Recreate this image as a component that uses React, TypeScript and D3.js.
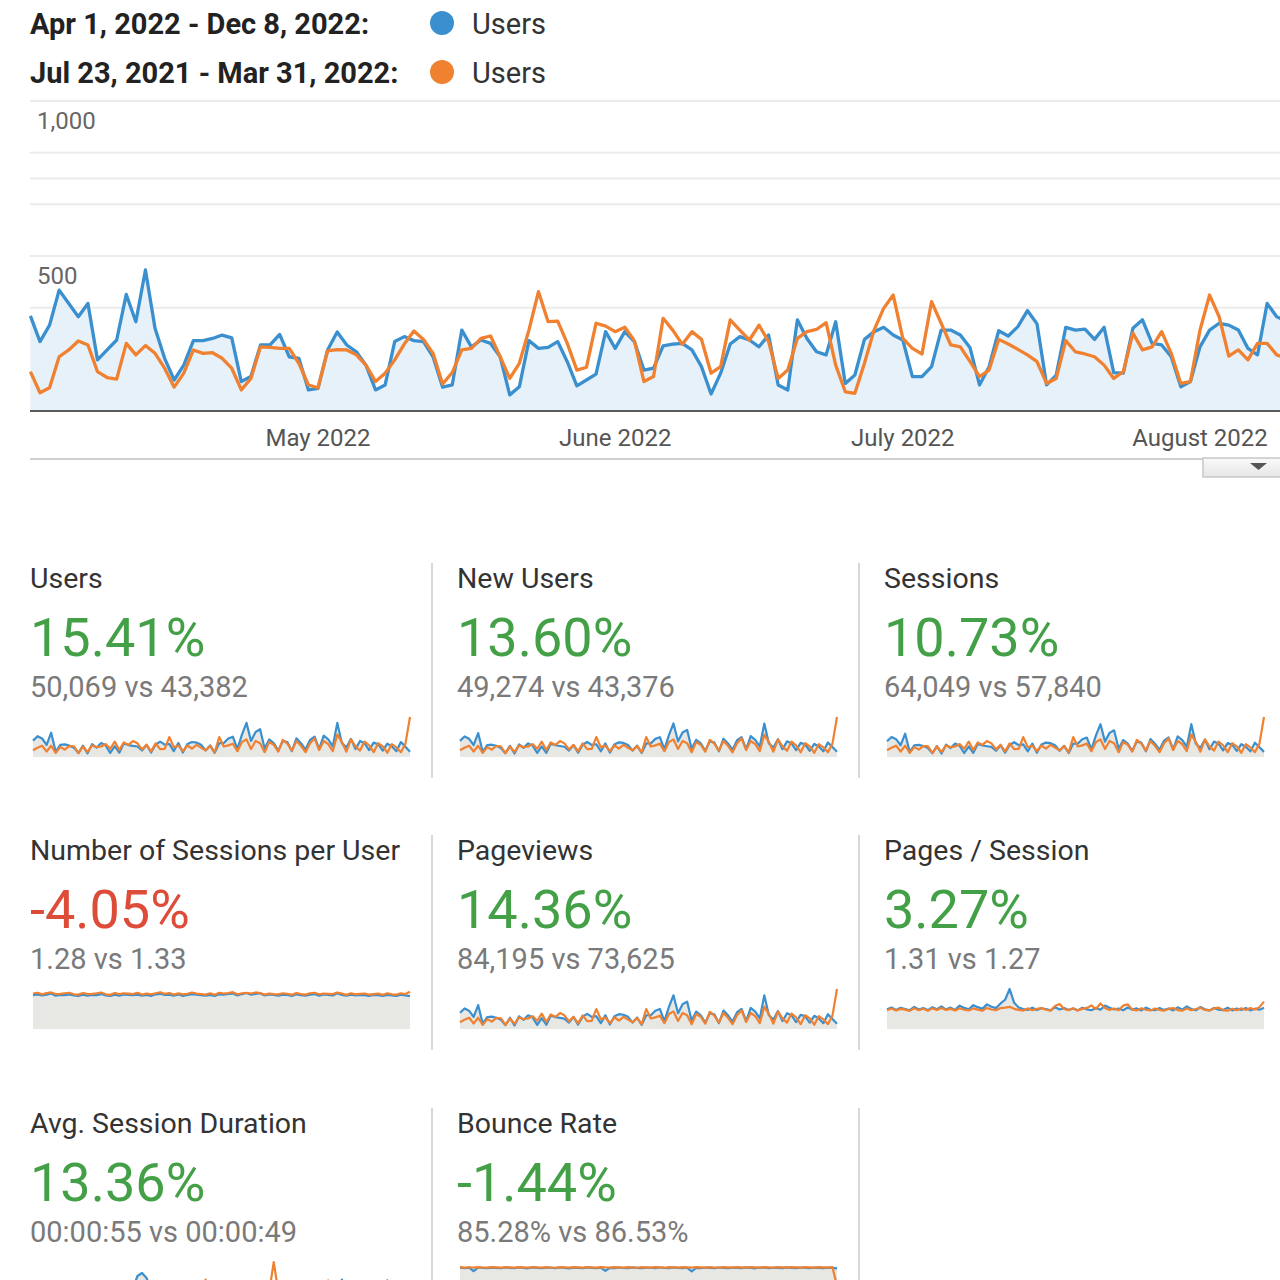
import React, { useEffect, useRef } from "react";
import { select, scaleTime, scaleLinear, line, area, max, format, timeDay } from "d3";

const FONT = "Roboto, 'Noto Sans', Arial, sans-serif";
const BLUE = "#3a8fcf";
const ORANGE = "#ef8130";

const rangeLabels = ["Apr 1, 2022 - Dec 8, 2022:", "Jul 23, 2021 - Mar 31, 2022:"];
const seriesName = "Users";
const startDate = new Date(2022, 3, 1);

// daily users from Apr 1, 2022
const usersDaily = [
  307, 224, 277, 390, 347, 304, 347, 165, 197, 229,
  376, 288, 455, 267, 170, 100, 148, 227, 227, 234,
  245, 236, 95, 111, 213, 213, 247, 175, 170, 68,
  73, 197, 255, 213, 191, 148, 68, 84, 224, 240,
  227, 224, 175, 77, 84, 261, 207, 229, 218, 175,
  52, 78, 227, 202, 205, 224, 159, 81, 100, 119,
  256, 202, 256, 224, 132, 138, 210, 216, 218, 197,
  143, 55, 122, 216, 240, 229, 207, 245, 84, 68,
  294, 234, 191, 181, 288, 89, 116, 231, 256, 270,
  245, 229, 111, 111, 143, 261, 261, 245, 205, 84,
  143, 259, 242, 272, 324, 281, 84, 116, 270, 261,
  264, 231, 270, 124, 122, 267, 294, 218, 213, 175,
  78, 95, 207, 261, 283, 277, 261, 202, 181, 347,
  304, 290,
];
// same days one period earlier (from Jul 23, 2021)
const usersDailyPrev = [
  127, 59, 75, 175, 197, 226, 213, 127, 108, 103,
  218, 181, 211, 186, 138, 77, 122, 197, 186, 188,
  170, 138, 68, 105, 207, 205, 202, 202, 154, 84,
  75, 194, 198, 197, 181, 148, 95, 122, 165, 216,
  258, 231, 186, 87, 124, 197, 202, 234, 242, 175,
  105, 154, 261, 385, 288, 290, 218, 132, 141, 283,
  274, 256, 270, 227, 95, 111, 299, 261, 215, 256,
  231, 122, 143, 294, 261, 229, 277, 224, 105, 132,
  234, 256, 263, 285, 148, 62, 57, 154, 261, 331,
  374, 234, 202, 184, 353, 283, 213, 207, 160, 111,
  132, 231, 216, 199, 181, 159, 89, 105, 227, 191,
  184, 175, 148, 105, 127, 251, 197, 207, 256, 186,
  89, 95, 261, 374, 304, 177, 197, 165, 218, 218,
  181, 170,
];

const yLabelTicks = [500, 1000];
const gridValues = [1000, 833, 750, 667, 500, 333];
const monthTicks = [new Date(2022, 4, 1), new Date(2022, 5, 1), new Date(2022, 6, 1), new Date(2022, 7, 1)];
const monthLabels = ["May 2022", "June 2022", "July 2022", "August 2022"];

// scorecards
const metricTitles = [
  "Users", "New Users", "Sessions",
  "Number of Sessions per User", "Pageviews", "Pages / Session",
  "Avg. Session Duration", "Bounce Rate",
];
const metricChange = [15.41, 13.6, 10.73, -4.05, 14.36, 3.27, 13.36, -1.44];
const metricIsGood = [true, true, true, false, true, true, true, true];
const metricDetail = [
  "50,069 vs 43,382", "49,274 vs 43,376", "64,049 vs 57,840",
  "1.28 vs 1.33", "84,195 vs 73,625", "1.31 vs 1.27",
  "00:00:55 vs 00:00:49", "85.28% vs 86.53%",
];

// sparkline samples (every 3rd day over each period)
const sparkUsers = [307,390,347,229,455,100,227,236,213,175,73,213,68,240,175,261,218,78,205,81,256,224,210,197,122,229,84,234,288,231,245,111,261,84,242,281,270,231,122,218,78,261,261,347,380,150,420,640,300,470,520,160,330,260,120,300,280,110,350,260,140,320,380,150,400,330,200,640,260,180,340,150,300,260,130,270,240,120,250,200,110,280,190,100];
const sparkUsersPrev = [127,175,213,103,211,77,186,138,207,202,75,197,95,216,186,197,242,154,288,132,274,227,299,256,143,229,105,256,148,154,374,184,213,111,216,159,227,175,127,207,89,374,197,218,250,110,280,330,150,300,260,90,280,230,100,320,250,120,300,210,90,260,350,130,300,240,110,420,280,100,330,200,120,290,220,90,260,200,80,240,180,90,250,750];
const sparkNewUsers = [301,384,340,224,447,97,222,230,209,170,71,208,66,234,171,255,213,76,200,79,250,219,205,192,119,223,82,229,281,226,239,108,255,82,236,275,264,226,119,213,76,255,255,339,371,146,410,628,293,459,508,156,322,254,117,293,273,107,342,254,137,313,371,146,391,322,195,625,254,176,332,146,293,254,127,264,234,117,244,195,107,273,185,98];
const sparkNewUsersPrev = [126,174,212,102,210,76,185,137,206,201,74,196,94,215,185,196,241,153,287,131,273,226,298,255,142,228,104,255,147,153,373,183,212,110,215,158,226,174,126,206,88,373,196,217,249,109,279,329,149,299,259,89,279,229,99,319,249,119,299,209,89,259,349,129,299,239,109,419,279,99,329,199,119,289,219,89,259,199,79,239,179,89,249,748];
const sparkSessions = [393,499,444,293,582,128,291,302,273,224,93,273,87,307,224,334,279,100,262,104,328,287,269,252,156,293,108,300,369,296,314,142,334,108,310,360,346,296,156,279,100,334,334,444,486,192,538,819,384,602,666,205,422,333,154,384,358,141,448,333,179,410,486,192,512,422,256,819,333,230,435,192,384,333,166,346,307,154,320,256,141,358,243,128];
const sparkSessionsPrev = [169,233,283,137,281,102,247,184,275,269,100,262,126,287,247,262,322,205,383,176,364,302,398,340,190,305,140,340,197,205,497,245,283,148,287,211,302,233,169,275,118,497,262,290,333,146,372,439,200,399,346,120,372,306,133,426,333,160,399,279,120,346,466,173,399,319,146,559,372,133,439,266,160,386,293,120,346,266,106,319,239,120,333,998];
const sparkSpu = [1.27,1.30,1.26,1.29,1.33,1.25,1.28,1.27,1.30,1.26,1.24,1.29,1.25,1.28,1.27,1.31,1.26,1.24,1.29,1.25,1.30,1.28,1.27,1.29,1.25,1.28,1.24,1.30,1.32,1.28,1.29,1.25,1.30,1.24,1.28,1.31,1.29,1.27,1.25,1.28,1.24,1.30,1.29,1.32,1.33,1.26,1.31,1.35,1.29,1.32,1.34,1.26,1.30,1.28,1.25,1.29,1.28,1.24,1.30,1.27,1.25,1.29,1.31,1.25,1.30,1.28,1.26,1.34,1.28,1.25,1.29,1.26,1.28,1.27,1.24,1.28,1.27,1.24,1.28,1.26,1.24,1.29,1.26,1.23];
const sparkSpuPrev = [1.33,1.36,1.30,1.35,1.37,1.31,1.32,1.34,1.36,1.30,1.29,1.35,1.31,1.32,1.34,1.37,1.30,1.28,1.35,1.31,1.34,1.33,1.31,1.36,1.29,1.33,1.30,1.34,1.38,1.32,1.35,1.29,1.34,1.30,1.32,1.37,1.33,1.31,1.29,1.34,1.28,1.36,1.33,1.35,1.38,1.30,1.34,1.36,1.33,1.37,1.35,1.29,1.33,1.31,1.30,1.34,1.32,1.28,1.35,1.31,1.29,1.34,1.36,1.30,1.33,1.32,1.31,1.37,1.33,1.28,1.34,1.30,1.32,1.33,1.29,1.31,1.33,1.28,1.34,1.30,1.29,1.34,1.31,1.40];
const sparkPageviews = [516,655,583,385,764,168,381,396,358,294,123,358,114,403,294,438,366,131,344,136,430,376,353,331,205,385,141,393,484,388,412,186,438,141,407,472,454,388,205,366,131,438,438,583,638,252,706,1075,504,790,874,269,554,437,202,504,470,185,588,437,235,538,638,252,672,554,336,1075,437,302,571,252,504,437,218,454,403,202,420,336,185,470,319,168];
const sparkPageviewsPrev = [216,298,362,175,359,131,316,235,352,343,128,335,162,367,316,335,411,262,490,224,466,386,508,435,243,389,179,435,252,262,636,313,362,189,367,270,386,298,216,352,151,636,335,371,425,187,476,561,255,510,442,153,476,391,170,544,425,204,510,357,153,442,595,221,510,408,187,714,476,170,561,340,204,493,374,153,442,340,136,408,306,153,425,1275];
const sparkPps = [1.28,1.40,1.24,1.38,1.30,1.22,1.44,1.27,1.36,1.23,1.41,1.29,1.47,1.26,1.39,1.24,1.52,1.37,1.28,1.55,1.42,1.31,1.60,1.45,1.36,1.66,1.90,2.60,1.70,1.40,1.29,1.24,1.39,1.23,1.35,1.30,1.22,1.41,1.27,1.36,1.23,1.33,1.21,1.38,1.28,1.22,1.37,1.25,1.52,1.38,1.27,1.33,1.22,1.40,1.26,1.34,1.21,1.39,1.25,1.22,1.36,1.24,1.33,1.21,1.41,1.26,1.47,1.30,1.22,1.43,1.28,1.21,1.37,1.25,1.23,1.39,1.21,1.33,1.24,1.36,1.21,1.32,1.25,1.38];
const sparkPpsPrev = [1.22,1.33,1.20,1.31,1.26,1.18,1.35,1.22,1.32,1.19,1.34,1.23,1.37,1.24,1.31,1.20,1.35,1.25,1.21,1.34,1.26,1.19,1.37,1.27,1.22,1.36,1.39,1.44,1.31,1.24,1.20,1.34,1.22,1.31,1.36,1.25,1.19,1.50,1.62,1.30,1.23,1.35,1.21,1.31,1.37,1.53,1.30,1.66,1.36,1.24,1.33,1.22,1.52,1.60,1.27,1.21,1.35,1.25,1.20,1.33,1.24,1.19,1.31,1.36,1.23,1.19,1.34,1.22,1.30,1.38,1.24,1.21,1.34,1.39,1.23,1.19,1.32,1.22,1.35,1.24,1.36,1.27,1.42,1.78];
const sparkDuration = [52,60,48,57,63,50,105,58,98,55,47,61,53,66,49,58,62,51,57,46,60,55,68,130,145,120,62,54,59,48,63,57,50,66,52,58,61,47,56,63,52,59,49,65,55,61,50,57,67,53,60,48,58,64,51,57,62,49,56,60,53,66,58,50,62,55,47,59,112,60,52,57,63,50,58,54,61,49,108,57,52,60,55,48];
const sparkDurationPrev = [46,52,43,50,55,44,58,49,53,47,42,54,46,57,44,51,55,45,50,41,53,48,59,62,56,51,47,52,44,56,50,45,58,47,51,54,42,49,112,55,46,52,44,57,49,53,45,51,58,47,53,43,50,200,52,49,45,54,105,48,100,52,46,57,50,108,44,51,56,47,53,49,45,55,50,46,52,48,54,45,50,47,53,58];
const sparkBounce = [86.1,84.9,85.7,77.0,86.3,85.2,84.6,86.0,85.1,84.4,86.5,85.4,84.7,86.2,85.0,84.3,86.4,85.3,84.5,86.1,85.6,84.8,86.3,85.1,84.2,86.0,85.5,84.6,86.4,85.2,84.4,86.1,78.0,85.3,84.7,86.2,85.0,84.5,86.6,85.4,84.3,86.0,85.6,84.9,86.3,85.1,84.4,86.5,85.2,84.6,86.1,76.5,85.4,84.8,86.3,85.0,84.4,86.2,85.5,84.7,86.0,85.3,84.5,86.4,85.1,84.3,86.2,85.6,84.8,86.1,85.2,84.5,86.4,85.0,84.6,86.2,85.3,84.4,86.0,85.5,84.7,86.1,85.2,84.0];
const sparkBouncePrev = [87.2,86.0,86.9,85.8,87.4,86.3,85.9,87.1,86.5,85.7,87.3,86.6,85.9,87.0,86.4,85.8,87.5,86.7,86.0,87.2,86.3,85.6,87.1,86.8,85.9,87.4,86.5,85.7,87.0,86.6,86.1,87.3,86.4,85.8,87.2,86.7,85.9,87.0,86.3,85.6,87.4,86.8,86.0,87.1,86.5,85.7,87.3,86.6,85.9,87.2,86.4,85.8,87.0,86.7,86.1,87.4,86.3,85.7,87.1,86.6,85.9,87.3,86.5,85.8,87.0,86.7,86.0,87.2,86.4,85.6,87.4,86.6,85.9,87.1,86.5,85.8,87.3,86.7,86.0,87.0,86.4,85.9,87.2,40.0];

const sparkCurrent = [sparkUsers, sparkNewUsers, sparkSessions, sparkSpu, sparkPageviews, sparkPps, sparkDuration, sparkBounce];
const sparkPrevious = [sparkUsersPrev, sparkNewUsersPrev, sparkSessionsPrev, sparkSpuPrev, sparkPageviewsPrev, sparkPpsPrev, sparkDurationPrev, sparkBouncePrev];
// fixed upper bound for the ratio metrics, otherwise the data max
const sparkTop: (number | null)[] = [null, null, null, 1.5, null, null, null, 100];

function App() {
  const svgRef = useRef<SVGSVGElement>(null);

  useEffect(() => {
    const svg = select(svgRef.current);
    svg.selectAll("*").remove();
    svg.attr("font-family", FONT);

    // legend
    rangeLabels.forEach((label, i) => {
      const cy = 23 + i * 49;
      svg.append("text").attr("x", 30).attr("y", cy + 11)
        .attr("font-size", 29).attr("font-weight", 700).attr("fill", "#222").text(label);
      svg.append("circle").attr("cx", 442).attr("cy", cy).attr("r", 12)
        .attr("fill", i === 0 ? BLUE : ORANGE);
      svg.append("text").attr("x", 472).attr("y", cy + 11)
        .attr("font-size", 29).attr("fill", "#333").text(seriesName);
    });

    // main chart
    const x = scaleTime()
      .domain([startDate, timeDay.offset(startDate, 130)])
      .range([30.4, 1276.7]);
    const y = scaleLinear().domain([0, 1000]).range([411, 101]);
    const dateAt = (i: number) => timeDay.offset(startDate, i);

    const g = svg.append("g");
    g.selectAll("line.grid").data(gridValues).enter().append("line")
      .attr("x1", 30).attr("x2", 1280)
      .attr("y1", (d) => y(d)).attr("y2", (d) => y(d))
      .attr("stroke", "#ebebeb").attr("stroke-width", 2);

    const fill = area<number>()
      .x((_, i) => x(dateAt(i)))
      .y0(y(0))
      .y1((d) => y(d));
    g.append("path").datum(usersDaily).attr("d", fill)
      .attr("fill", "#e4f0f8").attr("opacity", 0.9);

    g.append("line").attr("x1", 30).attr("x2", 1280)
      .attr("y1", y(0)).attr("y2", y(0))
      .attr("stroke", "#5a5a5a").attr("stroke-width", 2);

    const path = line<number>()
      .x((_, i) => x(dateAt(i)))
      .y((d) => y(d));
    g.append("path").datum(usersDaily).attr("d", path)
      .attr("fill", "none").attr("stroke", BLUE).attr("stroke-width", 3.3)
      .attr("stroke-linejoin", "round");
    g.append("path").datum(usersDailyPrev).attr("d", path)
      .attr("fill", "none").attr("stroke", ORANGE).attr("stroke-width", 3.3)
      .attr("stroke-linejoin", "round");

    const fmt = format(",");
    g.selectAll("text.ylab").data(yLabelTicks).enter().append("text")
      .attr("x", 37).attr("y", (d) => y(d) + 28)
      .attr("font-size", 24).attr("fill", "#666").text((d) => fmt(d));

    g.selectAll("text.xlab").data(monthTicks).enter().append("text")
      .attr("x", (d) => x(d)).attr("y", 446)
      .attr("text-anchor", "middle").attr("font-size", 24).attr("fill", "#555")
      .text((_, i) => monthLabels[i]);

    // bottom rule and dropdown handle
    const defs = svg.append("defs");
    const grad = defs.append("linearGradient").attr("id", "handle").attr("x1", 0).attr("x2", 0).attr("y1", 0).attr("y2", 1);
    grad.append("stop").attr("offset", "0%").attr("stop-color", "#fafafa");
    grad.append("stop").attr("offset", "100%").attr("stop-color", "#e6e6e6");
    svg.append("line").attr("x1", 30).attr("x2", 1203).attr("y1", 459).attr("y2", 459)
      .attr("stroke", "#cfcfcf").attr("stroke-width", 2);
    svg.append("rect").attr("x", 1203).attr("y", 458).attr("width", 82).attr("height", 19)
      .attr("fill", "url(#handle)").attr("stroke", "#c8c8c8").attr("stroke-width", 1.5);
    svg.append("path").attr("d", "M1250,463L1267,463L1258.5,470Z").attr("fill", "#555");

    // scorecards
    const colX = [30, 457, 884];
    const rowY = [0, 272, 545];
    const pct = format(".2f");
    const signed = (v: number) => (v < 0 ? "-" : "") + pct(Math.abs(v)) + "%";
    metricTitles.forEach((title, i) => {
      const cx = colX[i % 3];
      const oy = rowY[Math.floor(i / 3)];
      const card = svg.append("g");
      card.append("text").attr("x", cx).attr("y", 588 + oy)
        .attr("font-size", 28.5).attr("fill", "#333").text(title);
      card.append("text").attr("x", cx).attr("y", 656 + oy)
        .attr("font-size", 54).attr("fill", metricIsGood[i] ? "#43a047" : "#dd4b39")
        .text(signed(metricChange[i]));
      card.append("text").attr("x", cx).attr("y", 697 + oy)
        .attr("font-size", 29).attr("fill", "#7a7a7a").text(metricDetail[i]);

      const cur = sparkCurrent[i];
      const prev = sparkPrevious[i];
      const top = sparkTop[i] ?? (max([...cur, ...prev]) as number);
      const sx = scaleLinear().domain([0, cur.length - 1]).range([cx + 3, cx + 380]);
      const sy = scaleLinear().domain([0, top]).range([757 + oy, 717 + oy]);
      const sArea = area<number>().x((_, j) => sx(j)).y0(sy(0)).y1((d) => sy(d));
      const sLine = line<number>().x((_, j) => sx(j)).y((d) => sy(d));
      card.append("path").datum(cur).attr("d", sArea).attr("fill", "#e7e7e4");
      card.append("path").datum(cur).attr("d", sLine).attr("fill", "none")
        .attr("stroke", BLUE).attr("stroke-width", 2.2).attr("stroke-linejoin", "round");
      card.append("path").datum(prev).attr("d", sLine).attr("fill", "none")
        .attr("stroke", ORANGE).attr("stroke-width", 2.2).attr("stroke-linejoin", "round");
    });

    // column dividers
    [432, 859].forEach((dx) => {
      rowY.forEach((oy) => {
        svg.append("line").attr("x1", dx).attr("x2", dx)
          .attr("y1", 563 + oy).attr("y2", 778 + oy)
          .attr("stroke", "#d8d8d8").attr("stroke-width", 2);
      });
    });
  }, []);

  return (
    <svg ref={svgRef} width={1280} height={1280}
      style={{ position: "absolute", left: 0, top: 0, background: "#fff" }} />
  );
}

export default App;
